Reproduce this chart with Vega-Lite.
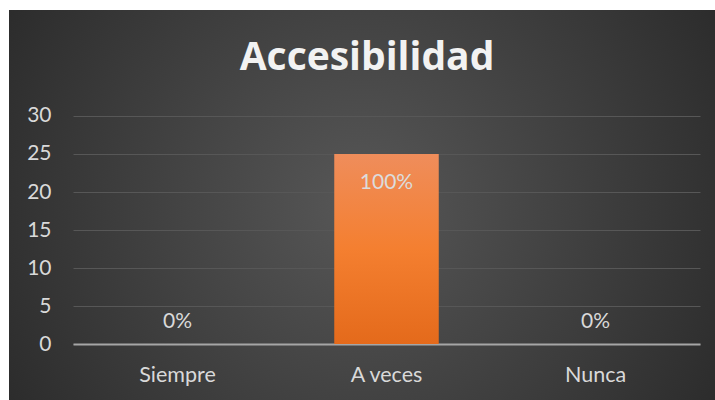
{
  "$schema": "https://vega.github.io/schema/vega-lite/v6.json",
  "width": 706,
  "height": 390,
  "autosize": {"type": "none"},
  "padding": {"left": 9, "top": 10, "right": 0, "bottom": 0},
  "background": "white",
  "view": {
    "stroke": null,
    "fill": {
      "gradient": "radial",
      "x1": 0.5, "y1": 0.5, "r1": 0,
      "x2": 0.5, "y2": 0.5, "r2": 0.64,
      "stops": [
        {"offset": 0, "color": "#575757"},
        {"offset": 1, "color": "#272727"}
      ]
    }
  },
  "title": {
    "text": "Accesibilidad",
    "anchor": "middle",
    "frame": "group",
    "offset": -68,
    "dx": 5,
    "font": "Open Sans",
    "fontSize": 39,
    "fontWeight": "bold",
    "color": "#f2f2f2"
  },
  "data": {
    "values": [
      {"categoria": "Siempre", "valor": 0, "pct": "0%"},
      {"categoria": "A veces", "valor": 25, "pct": "100%"},
      {"categoria": "Nunca", "valor": 0, "pct": "0%"}
    ]
  },
  "encoding": {
    "x": {
      "field": "categoria",
      "type": "nominal",
      "sort": null,
      "scale": {"range": [64, 691], "paddingInner": 0.5, "paddingOuter": 0.25},
      "axis": {
        "title": null,
        "offset": -56,
        "labelAngle": 0,
        "labelFont": "Lato",
        "labelFontSize": 21.5,
        "labelColor": "#d9d9d9",
        "labelPadding": 20,
        "ticks": false,
        "domainColor": "#a6a6a6",
        "domainWidth": 2,
        "grid": false
      }
    },
    "y": {
      "field": "valor",
      "type": "quantitative",
      "scale": {"domain": [-7.368, 43.947], "nice": false, "zero": false},
      "axis": {
        "title": null,
        "offset": -64,
        "values": [0, 5, 10, 15, 20, 25, 30],
        "domain": false,
        "ticks": false,
        "labelFont": "Lato",
        "labelFontSize": 21,
        "labelColor": "#d9d9d9",
        "labelPadding": 22,
        "grid": true,
        "gridColor": "#575757",
        "gridWidth": 1
      }
    }
  },
  "layer": [
    {
      "mark": {
        "type": "bar",
        "color": {
          "gradient": "linear",
          "x1": 0, "y1": 0, "x2": 0, "y2": 1,
          "stops": [
            {"offset": 0, "color": "#EF8D5B"},
            {"offset": 0.5, "color": "#F47F30"},
            {"offset": 1, "color": "#E46A1B"}
          ]
        }
      },
      "encoding": {"y2": {"datum": 0}}
    },
    {
      "transform": [{"filter": "datum.valor > 0"}],
      "mark": {"type": "text", "font": "Lato", "fontSize": 21, "color": "#dcdcdc", "baseline": "middle", "dy": 29},
      "encoding": {"text": {"field": "pct"}}
    },
    {
      "transform": [{"filter": "datum.valor == 0"}],
      "mark": {"type": "text", "font": "Lato", "fontSize": 21, "color": "#d9d9d9", "baseline": "middle", "dy": -22},
      "encoding": {"text": {"field": "pct"}}
    }
  ]
}
